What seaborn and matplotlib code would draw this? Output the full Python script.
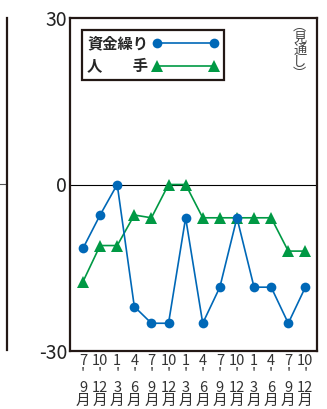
import matplotlib
matplotlib.use("Agg")
import matplotlib.pyplot as plt
import seaborn as sns
import pandas as pd
import numpy as np

sns.set_theme(style="white")
plt.rcParams['font.family'] = ['Noto Sans CJK JP', 'DejaVu Sans']

# data
start_months = ["7", "10", "1", "4", "7", "10", "1", "4", "7", "10", "1", "4", "7", "10"]
end_months = ["9", "12", "3", "6", "9", "12", "3", "6", "9", "12", "3", "6", "9", "12"]
shikin = [-11.5, -5.5, 0, -22, -25, -25, -6, -25, -18.5, -6, -18.5, -18.5, -25, -18.5]
jinshu = [-17.5, -11, -11, -5.5, -6, 0, 0, -6, -6, -6, -6, -6, -12, -12]
series_names = ["資金繰り", "人　　手"]
yticks = [30, 0, -30]

idx = np.arange(len(shikin))
df = pd.DataFrame({"idx": np.concatenate([idx, idx]),
                   "val": shikin + jinshu,
                   "series": [series_names[0]] * len(idx) + [series_names[1]] * len(idx)})

W, H = 327, 409
fig = plt.figure(figsize=(W / 100, H / 100), dpi=100)
L, R, T, B = 70, 317, 18, 351
ax = fig.add_axes([L / W, 1 - B / H, (R - L) / W, (B - T) / H])

blue = "#0068b7"
green = "#009944"
sns.lineplot(data=df[df.series == series_names[0]], x="idx", y="val", ax=ax,
             color=blue, marker="o", markersize=7, markeredgewidth=0, linewidth=1.2,
             label=series_names[0], zorder=4)
sns.lineplot(data=df[df.series == series_names[1]], x="idx", y="val", ax=ax,
             color=green, marker="^", markersize=8, markeredgewidth=0, linewidth=1.2,
             label=series_names[1], zorder=3)

ax.axhline(0, color="black", linewidth=0.8, zorder=0)
ax.set_ylim(-30, 30)
ax.set_xlim(-0.76, 13.68)
ax.set_yticks(yticks)
ax.set_yticklabels([str(v) for v in yticks], fontsize=14, color="#222222")
ax.set_xticks(idx)
ax.set_xticklabels([f"{a}\n'\n{b}\n月" for a, b in zip(start_months, end_months)],
                   fontsize=10.5, linespacing=0.95, color="#333333")
ax.tick_params(axis="both", length=0, pad=2)
ax.tick_params(axis="x", pad=2)
ax.set_xlabel("")
ax.set_ylabel("")
for s in ax.spines.values():
    s.set_color("#231815")
    s.set_linewidth(1.6)

leg = ax.legend(loc="upper left", bbox_to_anchor=(0.018, 0.987), numpoints=2,
                handlelength=4.3, handletextpad=0.3, borderpad=0.35, labelspacing=0.45,
                fancybox=False, framealpha=1, edgecolor="#231815",
                prop={"weight": "bold", "size": 11})
leg.get_frame().set_linewidth(1.6)
leg_boxes = leg._legend_handle_box.get_children()[0].get_children()
for hp in leg_boxes:
    hp._children = hp._children[::-1]
    hp.sep = 3

ax.text(0.93, 0.995, "︵\n見\n通\nし\n︶", transform=ax.transAxes, ha="center", va="top",
        fontsize=9.5, linespacing=0.9, color="#444444")

# partial left neighbour panel
ax2 = fig.add_axes([-0.6, 1 - 350 / H, 0.6 + 7 / W, (350 - T) / H])
ax2.set_xlim(0, 1)
ax2.set_ylim(-30, 30)
ax2.axhline(0, color="#555555", linewidth=0.8)
ax2.set_xticks([])
ax2.set_yticks([])
for k, s in ax2.spines.items():
    s.set_visible(k == "right")
    s.set_color("#231815")
    s.set_linewidth(1.6)
ax2.set_facecolor("none")

fig.savefig("out.png", dpi=100)
